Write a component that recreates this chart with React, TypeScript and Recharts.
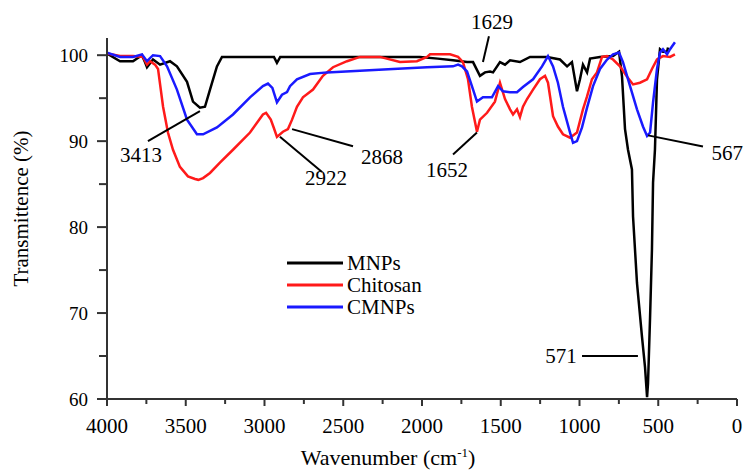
import {
  LineChart,
  Line,
  XAxis,
  YAxis,
  Legend,
  ReferenceLine,
  ReferenceDot,
} from 'recharts';

// [wavenumber (cm-1), transmittance (%)]
const mnps: [number, number][] = [
  [4000, 100.2], [3917, 99.3], [3835, 99.3], [3778, 100.0], [3759, 99.2], [3746, 98.6],
  [3708, 99.5], [3663, 98.9], [3600, 99.3], [3556, 98.7], [3492, 96.9], [3454, 94.6],
  [3410, 93.9], [3378, 94.0], [3346, 96.0], [3302, 98.7], [3270, 99.8], [3000, 99.8],
  [2940, 99.8], [2921, 99.1], [2900, 99.8], [2500, 99.8], [2013, 99.8], [1900, 99.6],
  [1803, 99.4], [1714, 99.2], [1676, 99.2], [1632, 97.6], [1600, 98.0], [1568, 98.1],
  [1549, 98.0], [1505, 99.2], [1473, 98.9], [1441, 99.4], [1378, 99.2], [1314, 99.8],
  [1206, 99.8], [1124, 99.5], [1079, 98.7], [1048, 99.2], [1016, 95.8], [997, 97.2],
  [978, 98.9], [952, 98.0], [933, 99.6], [870, 99.8], [787, 99.9], [749, 100.4],
  [730, 97.5], [711, 91.4], [692, 89.0], [667, 86.7], [660, 81.2], [635, 73.5],
  [603, 67.2], [584, 63.7], [571, 60.2], [565, 61.8], [552, 69.5], [540, 77.4],
  [533, 85.2], [521, 89.0], [508, 97.2], [489, 100.7], [470, 100.4], [444, 100.4],
  [438, 100.9],
];

const chitosan: [number, number][] = [
  [4000, 100.2], [3917, 99.9], [3835, 99.9], [3771, 99.8], [3746, 98.9], [3727, 99.3],
  [3695, 98.9], [3676, 98.4], [3644, 94.0], [3613, 91.0], [3581, 89.0], [3537, 87.0],
  [3486, 85.9], [3441, 85.6], [3420, 85.5], [3390, 85.7], [3346, 86.3], [3283, 87.5],
  [3200, 89.0], [3092, 91.0], [3010, 93.1], [2990, 93.3], [2960, 92.5], [2940, 91.5],
  [2921, 90.5], [2883, 91.1], [2851, 91.4], [2825, 92.5], [2794, 94.0], [2756, 95.1],
  [2692, 96.0], [2629, 97.6], [2565, 98.6], [2476, 99.3], [2394, 99.8], [2267, 99.8],
  [2140, 99.2], [2032, 99.3], [1968, 99.8], [1949, 100.1], [1822, 100.1], [1771, 99.8],
  [1740, 99.2], [1708, 97.2], [1683, 94.0], [1651, 91.1], [1632, 92.5], [1587, 93.3],
  [1537, 94.6], [1505, 96.8], [1473, 94.9], [1441, 93.7], [1422, 93.1], [1397, 93.7],
  [1378, 92.8], [1359, 94.0], [1333, 94.9], [1295, 96.0], [1251, 97.2], [1219, 97.6],
  [1200, 96.8], [1168, 92.9], [1137, 91.7], [1105, 90.8], [1060, 90.4], [1016, 91.0],
  [978, 93.7], [952, 95.2], [921, 97.2], [889, 98.0], [857, 99.8], [825, 99.9],
  [787, 99.5], [743, 98.7], [698, 97.5], [660, 96.6], [616, 96.8], [571, 97.2],
  [540, 98.4], [508, 99.5], [470, 99.9], [425, 99.8], [394, 100.1],
];

const cmnps: [number, number][] = [
  [4000, 100.3], [3917, 99.8], [3835, 99.8], [3778, 100.1], [3746, 99.3], [3708, 100.0],
  [3663, 99.9], [3619, 98.7], [3556, 96.0], [3492, 92.5], [3429, 90.8], [3390, 90.8],
  [3302, 91.6], [3200, 93.1], [3092, 95.1], [3010, 96.4], [2978, 96.7], [2950, 96.2],
  [2921, 94.5], [2889, 95.4], [2857, 95.7], [2838, 96.4], [2794, 97.2], [2711, 97.8],
  [2603, 98.0], [2394, 98.2], [2184, 98.4], [1968, 98.6], [1803, 98.7], [1771, 98.9],
  [1746, 98.7], [1714, 98.1], [1683, 96.4], [1651, 94.6], [1613, 95.1], [1556, 95.1],
  [1517, 96.4], [1486, 95.8], [1441, 95.7], [1397, 95.7], [1359, 96.3], [1295, 97.2],
  [1238, 98.7], [1200, 99.9], [1168, 98.7], [1137, 96.8], [1105, 94.0], [1060, 91.0],
  [1041, 89.8], [1016, 90.0], [984, 91.6], [952, 93.9], [914, 96.4], [870, 98.4],
  [825, 99.5], [787, 100.1], [749, 100.3], [724, 99.2], [679, 96.4], [635, 93.7],
  [597, 91.7], [571, 90.6], [552, 91.0], [533, 94.5], [508, 98.4], [489, 100.3],
  [470, 100.7], [444, 100.1], [425, 100.7], [394, 101.5],
];

const seriesOrder = ['MNPs', 'Chitosan', 'CMNPs'];
const xTicks = [0, 250, 500, 750, 1000, 1250, 1500, 1750, 2000, 2250, 2500, 2750, 3000, 3250, 3500, 3750, 4000];
const yTicks = [60, 65, 70, 75, 80, 85, 90, 95, 100];

// peak labels: text, label anchor, leader line ends
const peaks = [
  { text: '3413', at: [3784, 88.45], from: [3410, 93.5], to: [3740, 90.0] },
  { text: '2922', at: [2610, 85.76], from: [2902, 90.5], to: [2635, 86.4] },
  { text: '2868', at: [2254, 88.2], from: [2825, 91.4], to: [2438, 89.4] },
  { text: '1629', at: [1556, 103.85], from: [1575, 102.2], to: [1613, 99.2] },
  { text: '1652', at: [1841, 86.7], from: [1651, 91.0], to: [1803, 88.45] },
  { text: '567', at: [62, 88.7], from: [565, 90.67], to: [216, 89.38] },
  { text: '571', at: [1117, 65.0], from: [984, 65.0], to: [629, 65.0] },
];

const toRows = (pts: [number, number][]) => pts.map(([wn, t]) => ({ wn, t }));

const FONT = '"Liberation Serif", "Times New Roman", serif';
const AXIS = '#333';

const YTick = (props: any) => {
  const { x, y, payload } = props;
  const major = payload.value % 10 === 0;
  return (
    <g>
      <line x1={x - (major ? 10 : 8)} x2={x} y1={y} y2={y} stroke={AXIS} strokeWidth={2} />
      {major && (
        <text x={x - 19} y={y} dy="0.35em" textAnchor="end" fontSize={19} fontFamily={FONT} fill="#000">
          {payload.value}
        </text>
      )}
    </g>
  );
};

const XTick = (props: any) => {
  const { x, y, payload } = props;
  const major = payload.value % 500 === 0;
  return (
    <g>
      <line x1={x} x2={x} y1={y} y2={y + (major ? 7 : 5)} stroke={AXIS} strokeWidth={2} />
      {major && (
        <text x={x} y={y + 34} textAnchor="middle" fontSize={21} fontFamily={FONT} fill="#000">
          {payload.value}
        </text>
      )}
    </g>
  );
};

const XTitle = ({ viewBox }: any) => (
  <text x={viewBox.x + viewBox.width / 2 - 34} y={viewBox.y + 66} textAnchor="middle" fontSize={22} fontFamily={FONT} fill="#000">
    Wavenumber (cm
    <tspan fontSize={13} dy={-8}>-1</tspan>
    <tspan dy={8}>)</tspan>
  </text>
);

const YTitle = ({ viewBox }: any) => {
  const cx = 21;
  const cy = viewBox.y + viewBox.height / 2 - 10;
  return (
    <text x={cx} y={cy} transform={`rotate(-90 ${cx} ${cy})`} textAnchor="middle" dy="0.35em" fontSize={21} fontFamily={FONT} fill="#000">
      Transmittence (%)
    </text>
  );
};

const PeakLabel = ({ viewBox, value }: any) => (
  <text x={viewBox.x + viewBox.width / 2} y={viewBox.y + viewBox.height / 2} dy="0.35em" textAnchor="middle" fontSize={21} fontFamily={FONT} fill="#000">
    {value}
  </text>
);

const LegendBox = ({ payload }: any) => {
  const items = [...(payload || [])].sort(
    (a: any, b: any) => seriesOrder.indexOf(a.value) - seriesOrder.indexOf(b.value)
  );
  return (
    <div style={{ fontFamily: FONT, fontSize: 21, color: '#000' }}>
      {items.map((p: any) => (
        <div key={p.value} style={{ display: 'flex', alignItems: 'center', height: 22, lineHeight: '22px' }}>
          <svg width={60} height={22}>
            <line x1={0} x2={56} y1={11} y2={11} stroke={p.color} strokeWidth={3} />
          </svg>
          <span>{p.value}</span>
        </div>
      ))}
    </div>
  );
};

export default function App() {
  return (
    <div style={{ position: 'absolute', left: 0, top: 0, width: 748, height: 471, background: '#fff' }}>
      <LineChart width={748} height={471} margin={{ top: 38, right: 11, left: 0, bottom: 0 }}>
        <XAxis
          dataKey="wn"
          type="number"
          domain={[0, 4000]}
          reversed
          ticks={xTicks}
          interval={0}
          tickSize={0}
          tickMargin={0}
          tickLine={false}
          tick={<XTick />}
          height={72}
          axisLine={{ stroke: AXIS, strokeWidth: 2 }}
          allowDataOverflow
          label={<XTitle />}
        />
        <YAxis
          type="number"
          domain={[60, 102]}
          ticks={yTicks}
          interval={0}
          tickSize={0}
          tickMargin={0}
          tickLine={false}
          tick={<YTick />}
          width={107}
          axisLine={{ stroke: AXIS, strokeWidth: 2 }}
          allowDataOverflow
          label={<YTitle />}
        />
        <Legend
          verticalAlign="middle"
          align="center"
          layout="horizontal"
          content={<LegendBox />}
          wrapperStyle={{ left: 287, top: 252, width: 200 }}
        />
        <Line data={toRows(mnps)} dataKey="t" name="MNPs" stroke="#000" strokeWidth={2.5} dot={false} isAnimationActive={false} />
        <Line data={toRows(chitosan)} dataKey="t" name="Chitosan" stroke="#ff1a1a" strokeWidth={2.5} dot={false} isAnimationActive={false} />
        <Line data={toRows(cmnps)} dataKey="t" name="CMNPs" stroke="#1a1aff" strokeWidth={2.5} dot={false} isAnimationActive={false} />
        {peaks.map((p) => (
          <ReferenceLine
            key={`l-${p.text}`}
            segment={[{ x: p.from[0], y: p.from[1] }, { x: p.to[0], y: p.to[1] }]}
            stroke="#000"
            strokeWidth={2}
            ifOverflow="visible"
          />
        ))}
        {peaks.map((p) => (
          <ReferenceDot
            key={`t-${p.text}`}
            x={p.at[0]}
            y={p.at[1]}
            r={0}
            fill="none"
            stroke="none"
            ifOverflow="visible"
            label={<PeakLabel value={p.text} />}
          />
        ))}
      </LineChart>
    </div>
  );
}
